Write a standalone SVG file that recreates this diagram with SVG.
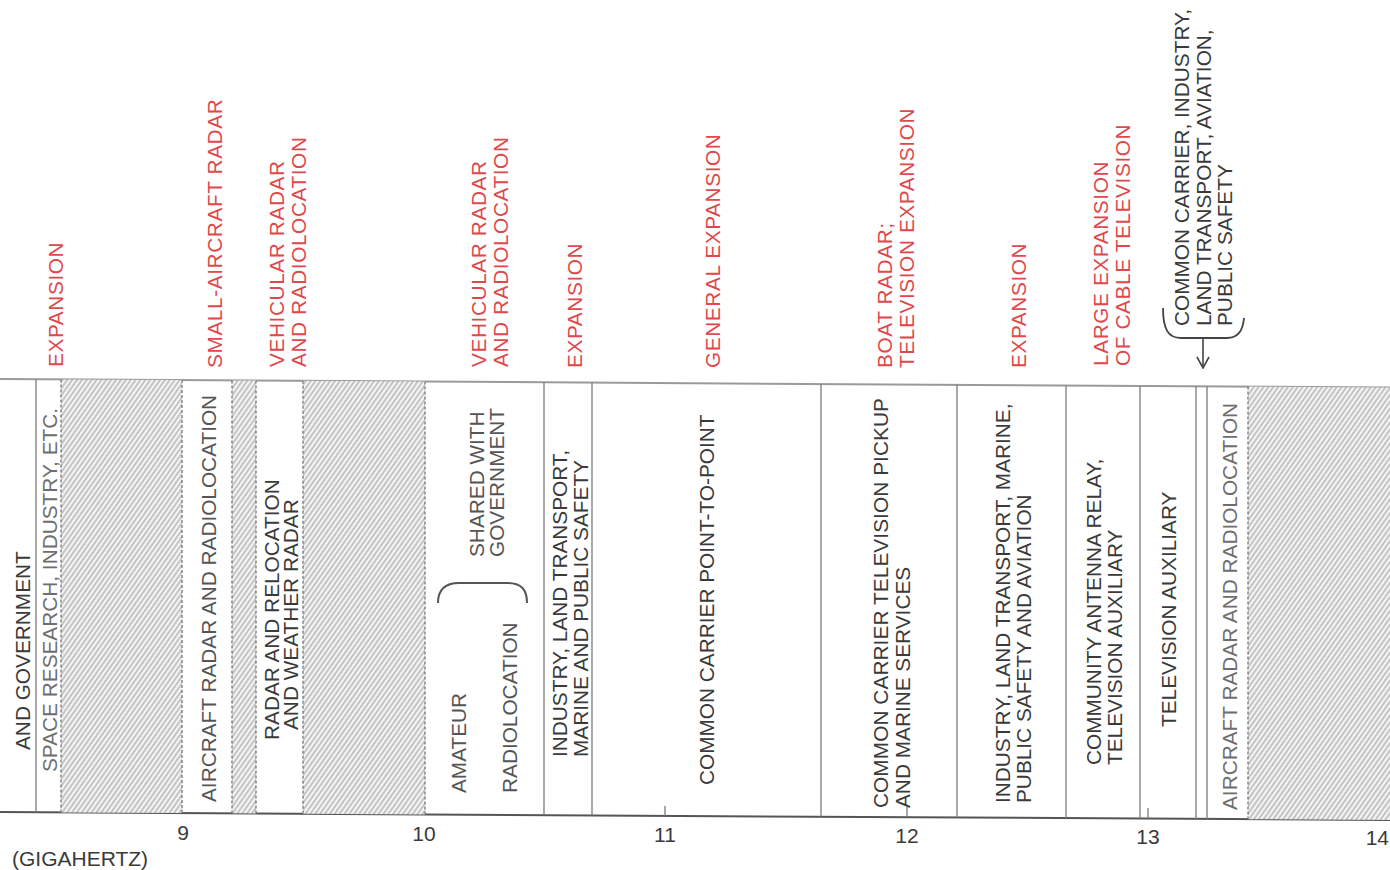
<svg xmlns="http://www.w3.org/2000/svg" width="1390" height="870" viewBox="0 0 1390 870">
<defs>
<pattern id="hatch" patternUnits="userSpaceOnUse" width="4" height="10" patternTransform="rotate(35)">
<rect width="4" height="10" fill="#f4f4f4"/>
<line x1="1" y1="0" x2="1" y2="10" stroke="#a2a2a2" stroke-width="1.15"/>
</pattern>
<marker id="vhead" viewBox="0 0 14 14" refX="13" refY="7" markerWidth="14" markerHeight="14" markerUnits="userSpaceOnUse" orient="auto">
<path d="M2,1 L13,7 L2,13" fill="none" stroke="#444" stroke-width="1.6"/>
</marker>
</defs>
<style>
text{font-family:"Liberation Sans",Arial,Helvetica,sans-serif;font-size:20.8px}
.red{fill:#e0484c;letter-spacing:0.6px}
.dk{fill:#3a3a3a}
.md{fill:#555}
.lt{fill:#6e6e6e}
.num{font-size:21px;fill:#3a3a3a}
.div{stroke:#7a7a7a;stroke-width:1.3;fill:none}
.dash{stroke:#777;stroke-width:1.3;stroke-dasharray:3 2;fill:none}
.hatch{fill:url(#hatch)}
</style>
<rect width="1390" height="870" fill="#ffffff"/>

<!-- band outline -->
<g id="band">
<line x1="0" y1="379" x2="1390" y2="387.5" stroke="#9a9a9a" stroke-width="2"/>
<line x1="0" y1="812" x2="1390" y2="820" stroke="#555" stroke-width="2"/>
</g>

<!-- segments -->
<g id="seg-and-government">
<text class="dk" transform="translate(30,750) rotate(-90)">AND GOVERNMENT</text>
</g>
<g id="seg-space-research">
<line class="div" x1="36" y1="379.2" x2="36" y2="812.2"/>
<text class="lt" transform="translate(57,772) rotate(-90)">SPACE RESEARCH, INDUSTRY, ETC.</text>
</g>
<g id="seg-hatch-1">
<polygon class="hatch" points="61,379.4 182,380.1 182,813 61,812.4"/>
<line class="dash" x1="61" y1="379.4" x2="61" y2="812.4"/>
<line class="dash" x1="182" y1="380.1" x2="182" y2="813"/>
</g>
<g id="seg-aircraft-radar-1">
<text class="md" transform="translate(216,802) rotate(-90)">AIRCRAFT RADAR AND RADIOLOCATION</text>
</g>
<g id="seg-hatch-2">
<polygon class="hatch" points="232,380.4 256,380.6 256,813.5 232,813.3"/>
<line class="dash" x1="232" y1="380.4" x2="232" y2="813.3"/>
<line class="dash" x1="256" y1="380.6" x2="256" y2="813.5"/>
</g>
<g id="seg-radar-relocation">
<text class="dk" transform="translate(279,740) rotate(-90)">RADAR AND RELOCATION<tspan x="10" dy="19">AND WEATHER RADAR</tspan></text>
</g>
<g id="seg-hatch-3">
<polygon class="hatch" points="303,380.8 425,381.6 425,814.4 303,813.7"/>
<line class="dash" x1="303" y1="380.8" x2="303" y2="813.7"/>
<line class="dash" x1="425" y1="381.6" x2="425" y2="814.4"/>
</g>
<g id="seg-amateur">
<text class="md" transform="translate(466,793) rotate(-90)">AMATEUR</text>
<text class="md" transform="translate(517,793) rotate(-90)">RADIOLOCATION</text>
<path d="M438,603 C438,589 445,583 459,583 L507,583 C521,583 527,589 527,603" fill="none" stroke="#555" stroke-width="2"/>
<text class="md" transform="translate(484,557) rotate(-90)">SHARED WITH<tspan x="0" dy="20">GOVERNMENT</tspan></text>
</g>
<g id="seg-industry-1">
<line class="div" x1="544" y1="382.3" x2="544" y2="815.1"/>
<text class="dk" transform="translate(567,757) rotate(-90)">INDUSTRY, LAND TRANSPORT,<tspan x="0" dy="21">MARINE AND PUBLIC SAFETY</tspan></text>
</g>
<g id="seg-common-carrier">
<line class="div" x1="592" y1="382.6" x2="592" y2="815.4"/>
<text class="dk" transform="translate(714,785) rotate(-90)">COMMON CARRIER POINT-TO-POINT</text>
</g>
<g id="seg-tv-pickup">
<line class="div" x1="821" y1="384" x2="821" y2="816.7"/>
<text class="dk" transform="translate(888,808) rotate(-90)"><tspan textLength="410" lengthAdjust="spacing">COMMON CARRIER TELEVISION PICKUP</tspan><tspan x="0" dy="21.5">AND MARINE SERVICES</tspan></text>
</g>
<g id="seg-industry-2">
<line class="div" x1="957" y1="384.8" x2="957" y2="817.5"/>
<text class="dk" transform="translate(1010,803) rotate(-90)">INDUSTRY, LAND TRANSPORT, MARINE,<tspan x="0" dy="20.5">PUBLIC SAFETY AND AVIATION</tspan></text>
</g>
<g id="seg-community-antenna">
<line class="div" x1="1066" y1="385.5" x2="1066" y2="818.1"/>
<text class="dk" transform="translate(1101,765) rotate(-90)">COMMUNITY ANTENNA RELAY,<tspan x="0" dy="20.5">TELEVISION AUXILIARY</tspan></text>
</g>
<g id="seg-tv-auxiliary">
<line class="div" x1="1140" y1="386" x2="1140" y2="818.6"/>
<text class="dk" transform="translate(1176,727) rotate(-90)">TELEVISION AUXILIARY</text>
</g>
<g id="seg-aircraft-radar-2">
<line class="div" x1="1196" y1="386.3" x2="1196" y2="818.9"/>
<line class="div" x1="1207" y1="386.4" x2="1207" y2="819"/>
<text class="lt" transform="translate(1237,810) rotate(-90)">AIRCRAFT RADAR AND RADIOLOCATION</text>
</g>
<g id="seg-hatch-4">
<polygon class="hatch" points="1248,386.6 1390,387.5 1390,820 1248,819.2"/>
<line class="dash" x1="1248" y1="386.6" x2="1248" y2="819.2"/>
</g>

<!-- proposed uses -->
<g id="prop-expansion-1"><text class="red" transform="translate(63,367) rotate(-90)">EXPANSION</text></g>
<g id="prop-small-aircraft"><text class="red" transform="translate(222,368) rotate(-90)">SMALL-AIRCRAFT RADAR</text></g>
<g id="prop-vehicular-1"><text class="red" transform="translate(284,367) rotate(-90)">VEHICULAR RADAR<tspan x="0" dy="22">AND RADIOLOCATION</tspan></text></g>
<g id="prop-vehicular-2"><text class="red" transform="translate(486,367) rotate(-90)">VEHICULAR RADAR<tspan x="0" dy="22">AND RADIOLOCATION</tspan></text></g>
<g id="prop-expansion-2"><text class="red" transform="translate(582,368) rotate(-90)">EXPANSION</text></g>
<g id="prop-general-expansion"><text class="red" transform="translate(720,368) rotate(-90)">GENERAL  EXPANSION</text></g>
<g id="prop-boat-radar"><text class="red" transform="translate(892,368) rotate(-90)">BOAT RADAR;<tspan x="0" dy="22">TELEVISION EXPANSION</tspan></text></g>
<g id="prop-expansion-3"><text class="red" transform="translate(1026,368) rotate(-90)">EXPANSION</text></g>
<g id="prop-cable-tv"><text class="red" transform="translate(1108,366) rotate(-90)">LARGE EXPANSION<tspan x="0" dy="22">OF CABLE TELEVISION</tspan></text></g>
<g id="prop-common-carrier">
<text class="dk" transform="translate(1189,326) rotate(-90)">COMMON CARRIER, INDUSTRY,<tspan x="0" dy="21.5">LAND TRANSPORT, AVIATION,</tspan><tspan x="0" dy="21.5">PUBLIC SAFETY</tspan></text>
<path d="M1163,308 C1163,329 1168,338 1181,338 L1227,338 C1238,338 1243,331 1244,318" fill="none" stroke="#444" stroke-width="1.8"/>
</g>

<!-- connectors -->
<g id="connectors">
<line x1="1203" y1="338" x2="1203" y2="368" stroke="#444" stroke-width="1.6" marker-end="url(#vhead)"/>
</g>

<!-- axis -->
<g id="axis">
<line class="div" x1="665" y1="806" x2="665" y2="815.8"/>
<line class="div" x1="907" y1="807" x2="907" y2="817.2"/>
<line class="div" x1="1148" y1="808" x2="1148" y2="818.6"/>
<text class="num" x="183" y="840" text-anchor="middle">9</text>
<text class="num" x="424" y="841" text-anchor="middle">10</text>
<text class="num" x="665" y="842" text-anchor="middle">11</text>
<text class="num" x="907" y="843" text-anchor="middle">12</text>
<text class="num" x="1148" y="844" text-anchor="middle">13</text>
<text class="num" x="1389" y="845" text-anchor="end">14</text>
<text class="num" x="12" y="866">(GIGAHERTZ)</text>
</g>
</svg>
